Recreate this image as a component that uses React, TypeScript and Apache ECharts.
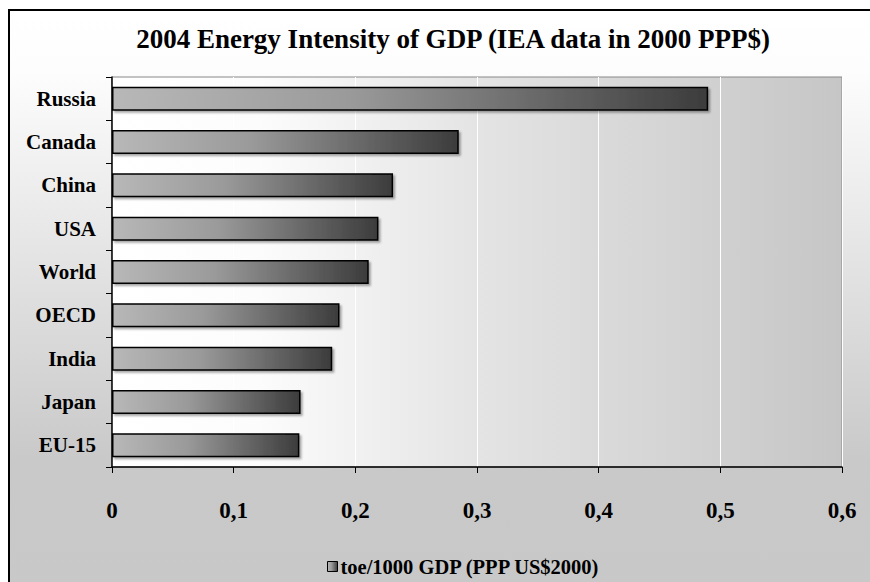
import React, { useEffect, useRef } from "react";
import * as echarts from "echarts";

const categories = ["Russia", "Canada", "China", "USA", "World", "OECD", "India", "Japan", "EU-15"];
const values = [0.49, 0.285, 0.231, 0.219, 0.211, 0.187, 0.181, 0.155, 0.154];
const seriesName = "toe/1000 GDP (PPP US$2000)";
const titleText = "2004 Energy Intensity of GDP (IEA data in 2000 PPP$)";

const FONT = "Liberation Serif";

export default function App() {
  const ref = useRef<HTMLDivElement>(null);
  useEffect(() => {
    const chart = echarts.init(ref.current!, null, { renderer: "svg" });
    const barGrad = new echarts.graphic.LinearGradient(0, 0, 1, 0, [
      { offset: 0, color: "#b8b8b8" },
      { offset: 0.4, color: "#9a9a9a" },
      { offset: 1, color: "#3c3c3c" },
    ]);
    chart.setOption({
      animation: false,
      textStyle: { fontFamily: FONT },
      graphic: [
        {
          type: "rect",
          z: -100,
          silent: true,
          shape: { x: 9, y: 10, width: 900, height: 600 },
          style: {
            fill: new echarts.graphic.LinearGradient(0, 0, 0, 1, [
              { offset: 0, color: "#ffffff" },
              { offset: 0.1, color: "#fdfdfd" },
              { offset: 0.75, color: "#c9c9c9" },
              { offset: 1, color: "#c8c8c8" },
            ]),
            stroke: "#000",
            lineWidth: 2,
          },
        },
      ],
      title: {
        text: titleText,
        left: 448,
        textAlign: "center",
        top: 20,
        textStyle: { fontFamily: FONT, fontWeight: "bold", fontSize: 27, color: "#000" },
      },
      legend: {
        left: 322,
        top: 551,
        itemWidth: 10,
        itemHeight: 10,
        itemGap: 6,
        icon: "rect",
        textStyle: { fontFamily: FONT, fontWeight: "bold", fontSize: 20.5, color: "#000", padding: [0, 0, 0, -2] },
        data: [{ name: seriesName, itemStyle: { color: barGrad, borderColor: "#000", borderWidth: 1 } }],
      },
      grid: {
        left: 112,
        right: 28,
        top: 77,
        bottom: 115,
        show: true,
        borderColor: "#888",
        borderWidth: 1,
        backgroundColor: new echarts.graphic.LinearGradient(0, 0, 1, 0, [
          { offset: 0, color: "#ffffff" },
          { offset: 0.2, color: "#fcfcfc" },
          { offset: 0.5, color: "#e4e4e4" },
          { offset: 1, color: "#c6c6c6" },
        ]),
      },
      xAxis: {
        type: "value",
        min: 0,
        max: 0.6,
        interval: 0.1,
        axisLine: { show: true, lineStyle: { color: "#000", width: 1.5 } },
        axisTick: { show: true, length: 6, lineStyle: { color: "#000" } },
        splitLine: { show: true, lineStyle: { color: "#ffffff", width: 1 } },
        axisLabel: {
          margin: 32,
          fontFamily: FONT,
          fontWeight: "bold",
          fontSize: 23,
          color: "#000",
          formatter: (v: number) => (v === 0 ? "0" : v.toFixed(1).replace(".", ",")),
        },
      },
      yAxis: {
        type: "category",
        inverse: true,
        data: categories,
        axisLine: { show: true, lineStyle: { color: "#000", width: 1.5 } },
        axisTick: { show: true, length: 6, lineStyle: { color: "#000" } },
        axisLabel: {
          margin: 16,
          fontFamily: FONT,
          fontWeight: "bold",
          fontSize: 21,
          color: "#000",
        },
      },
      series: [
        {
          name: seriesName,
          type: "bar",
          data: values,
          barWidth: 24,
          itemStyle: {
            color: barGrad,
            borderColor: "#000",
            borderWidth: 1.5,
            shadowColor: "rgba(0,0,0,0.35)",
            shadowOffsetX: 2,
            shadowOffsetY: 2,
            shadowBlur: 2,
          },
        },
      ],
    });
    return () => chart.dispose();
  }, []);
  return (
    <div
      ref={ref}
      style={{ position: "fixed", left: 0, top: 0, width: 870, height: 582, background: "#fff" }}
    />
  );
}
